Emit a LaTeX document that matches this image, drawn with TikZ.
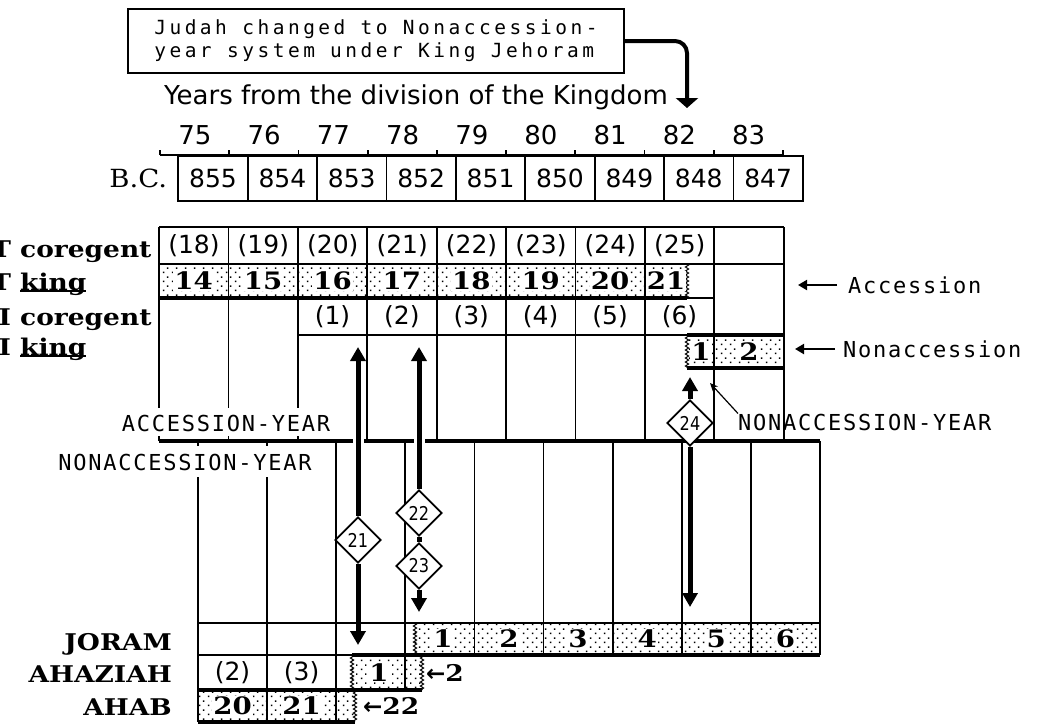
\documentclass[tikz,border=0pt]{standalone}
\usepackage{fontspec}
\newfontfamily\genfont{DejaVu Sans}
\newfontfamily\accfont{DejaVu Sans Mono}[LetterSpace=8]
\newfontfamily\notefont{DejaVu Sans Mono}[LetterSpace=18]
\newfontfamily\slabfont{DejaVu Serif}[FakeStretch=1.15]
\newfontfamily\bcfont{DejaVu Serif}[FakeStretch=1.1]
\newfontfamily\tagfont{DejaVu Sans}[FakeStretch=0.85]
\usetikzlibrary{arrows.meta,positioning,shapes.geometric,decorations.pathmorphing,patterns.meta}

\pgfdeclarepattern{
  name=specks,
  type=uncolored,
  bottom left={\pgfpoint{0pt}{0pt}},
  top right={\pgfpoint{9pt}{9pt}},
  tile size={\pgfpoint{9pt}{9pt}},
  code={
    \pgfpathrectangle{\pgfpoint{1pt}{1pt}}{\pgfpoint{1.6pt}{1.6pt}}
    \pgfpathrectangle{\pgfpoint{5.5pt}{5.5pt}}{\pgfpoint{1.6pt}{1.6pt}}
    \pgfusepath{fill}
  }
}

\newsavebox\kingbox
\newcommand\kingline[1]{\sbox\kingbox{#1}\rlap{\rule[-1.5pt]{\wd\kingbox}{2pt}}\usebox\kingbox}

\tikzset{
  gline/.style={line width=1.8pt},
  hline/.style={line width=4pt},
  band/.style={pattern=specks},
  jag/.style={decorate, decoration={zigzag, segment length=4pt, amplitude=1.6pt}, line width=1pt},
  paren/.style={font=\genfont\fontsize{25}{25}\selectfont, inner sep=0pt},
  yearnum/.style={font=\genfont\fontsize{26}{26}\selectfont, inner sep=0pt},
  bccell/.style={draw, gline, minimum width=69.4pt, minimum height=45pt, inner sep=0pt,
                 font=\genfont\fontsize{25}{25}\selectfont},
  regnal/.style={font=\slabfont\bfseries\fontsize{24}{24}\selectfont, fill=white, inner sep=1pt},
  rowlbl/.style={font=\slabfont\bfseries\fontsize{23}{23}\selectfont, inner sep=0pt},
  caplbl/.style={font=\accfont\fontsize{22}{22}\selectfont, inner sep=0pt},
  marker/.style={diamond, aspect=1, draw, fill=white, line width=1.8pt, minimum size=46pt,
                 inner sep=0pt, font=\tagfont\fontsize{19}{19}\selectfont},
  sync/.style={line width=5pt, -{Triangle[length=14pt,width=15pt]},
               preaction={draw=white, line width=11pt, arrows=-}},
  syncbar/.style={line width=5pt},
  notearrow/.style={line width=4pt, rounded corners=12pt, -{Triangle[length=10pt,width=22pt]}},
  labarrow/.style={line width=2pt, -{Triangle[length=9pt,width=10pt]}},
  pointer/.style={line width=1.2pt, -{Stealth[length=8pt,width=7pt]}},
}

\begin{document}
\begin{tikzpicture}[x=1pt, y=-1pt]
  \useasboundingbox (0,0) rectangle (1037,724);

  % note and years scale
  \node[draw, line width=2pt, minimum width=496pt, minimum height=64pt, align=left, inner sep=0pt,
        font=\notefont\fontsize{19.5}{23}\selectfont] (note) at (376,41)
        {Judah changed to Nonaccession-\\year system under King Jehoram};
  \coordinate (bendtip) at (687,108);
  \draw[notearrow] (note.east) -| (bendtip);
  \node[yearnum] (yrs) at (416,97) {Years from the division of the Kingdom};
  \draw[gline] (160,155) -- (783,155);
  \foreach \i in {0,...,9}
    \draw[gline] ({160+69.2*\i},155) -- ++(0,-5);
  \foreach \n [count=\i from 0] in {75,...,83}
    \node[yearnum] (yr\n) at ({195+69.2*\i},135) {\n};
  \foreach \n [count=\i from 0] in {855,854,853,852,851,850,849,848,847}
    \node[bccell] (bc\n) at ({213+69.4*\i},178.5) {\n};
  \node[left=10pt of bc855, font=\bcfont\fontsize{25}{25}\selectfont, inner sep=0pt] (bclbl) {B.C.};

  % accession-year grid
  \fill[band] (159,264) rectangle (687,298);
  \fill[band] (687,335) rectangle (783.6,368);
  \draw[gline] (159,227) -- (783.6,227);
  \draw[gline] (159,264) -- (783.6,264);
  \draw[gline] (297.8,335) -- (687,335);
  \foreach \i in {0,1,2} {
    \draw[gline] ({159+69.4*\i},227) -- ({159+69.4*\i},408);
    \draw[gline] ({159+69.4*\i},441) -- ({159+69.4*\i},436);
  }
  \foreach \i in {3,...,9}
    \draw[gline] ({159+69.4*\i},227) -- ({159+69.4*\i},441);
  \draw[hline] (159,298) -- (687,298);
  \draw[gline] (687,298) -- (714.2,298);
  \draw[hline] (687,335) -- (783.6,335);
  \draw[hline] (687,368) -- (783.6,368);
  \draw[jag] (687,264) -- (687,298);
  \draw[jag] (687,335) -- (687,368);
  \foreach \n [count=\i from 0] in {18,...,25}
    \node[paren] (tc\n) at ({194+69.4*\i},245.5) {(\n)};
  \foreach \n [count=\i from 0] in {14,...,20}
    \node[regnal] (tk\n) at ({193.7+69.4*\i},281) {\n};
  \node[regnal] (tk21) at (666,281) {21};
  \foreach \n [count=\i from 0] in {1,...,6}
    \node[paren] (ic\n) at ({332.5+69.4*\i},316.5) {(\n)};
  \node[regnal] (ik1) at (701,351.5) {1};
  \node[regnal] (ik2) at (749,351.5) {2};

  \node[rowlbl, anchor=base west] (tcolbl) at (20,257) {\llap{T\ }coregent};
  \node[rowlbl, anchor=base west] (tkilbl) at (20,290) {\llap{T\ }\kingline{king}};
  \node[rowlbl, anchor=base west] (icolbl) at (20,325) {\llap{I\ }coregent};
  \node[rowlbl, anchor=base west] (ikilbl) at (20,355) {\llap{I\ }\kingline{king}};

  \node[caplbl, anchor=base west] (accside) at (848,293) {Accession};
  \node[caplbl, anchor=base west] (nonside) at (843,357) {Nonaccession};
  \coordinate (acctail) at (837,285);
  \coordinate (acchead) at (798,285);
  \coordinate (nontail) at (835,349);
  \coordinate (nonhead) at (795,349);
  \draw[labarrow] (acctail) -- (acchead);
  \draw[labarrow] (nontail) -- (nonhead);

  % change-over line
  \draw[hline] (159,441) -- (819.9,441);
  \node[caplbl] (acclbl) at (226,423) {ACCESSION-YEAR};
  \node[caplbl] (nonlbl) at (185,462) {NONACCESSION-YEAR};
  \node[caplbl, anchor=west] (nonlbl2) at (738,422) {NONACCESSION-YEAR};
  \coordinate (nonstart) at (710,383);
  \draw[pointer] (nonlbl2.north west) -- (nonstart);

  % nonaccession-year grid
  \fill[band] (415,623) rectangle (819.9,655);
  \fill[band] (352,655) rectangle (422,690);
  \fill[band] (198,690) rectangle (355,722);
  \foreach \j in {0,1} {
    \draw[gline] ({198+69.1*\j},441) -- ({198+69.1*\j},446);
    \draw[gline] ({198+69.1*\j},477) -- ({198+69.1*\j},722);
  }
  \draw[gline] (336.2,441) -- (336.2,722);
  \draw[gline] (405.3,441) -- (405.3,690);
  \foreach \j in {4,...,9}
    \draw[gline] ({198+69.1*\j},441) -- ({198+69.1*\j},655);
  \draw[gline] (198,655) -- (352,655);
  \draw[hline] (352,655) -- (819.9,655);
  \draw[hline] (198,690) -- (422,690);
  \draw[hline] (198,722) -- (355,722);
  \draw[jag] (415,623) -- (415,655);
  \draw[jag] (352,655) -- (352,690);
  \draw[jag] (422,655) -- (422,690);
  \draw[jag] (355,690) -- (355,722);

  % synchronism markers
  \node[marker] (m21) at (358,540) {21};
  \node[marker] (m22) at (419,513) {22};
  \node[marker] (m23) at (419,566) {23};
  \node[marker] (m24) at (690,423) {24};
  \coordinate (t21) at (358,347);
  \coordinate (b21) at (358,645);
  \coordinate (t22) at (419,347);
  \coordinate (b23) at (419,612);
  \coordinate (t24) at (690,377);
  \coordinate (b24) at (690,607);
  \draw[sync] (m21.north) -- (t21);
  \draw[sync] (m21.south) -- (b21);
  \draw[sync] (m22.north) -- (t22);
  \draw[syncbar] (m22.south) -- (m23.north);
  \draw[sync] (m23.south) -- (b23);
  \draw[sync] (m24.north) -- (t24);
  \draw[sync] (m24.south) -- (b24);
  \draw[gline] (198,623) -- (819.9,623);

  \node[regnal] (jo1) at (443,639) {1};
  \foreach \n [count=\i from 4] in {2,...,6}
    \node[regnal] (jo\n) at ({198+69.1*(\i+0.5)},639) {\n};
  \node[paren] (az2) at (232.5,672.5) {(2)};
  \node[paren] (az3) at (301.6,672.5) {(3)};
  \node[regnal] (az1) at (379,672.5) {1};
  \node[regnal] (ab20) at (232.5,706) {20};
  \node[regnal] (ab21) at (301.6,706) {21};
  \node[rowlbl, anchor=west] (aznote) at (426,673) {{\genfont\bfseries ←}2};
  \node[rowlbl, anchor=west] (abnote) at (363,706) {{\genfont\bfseries ←}22};

  \node[rowlbl, anchor=base east] (joram) at (172,650) {JORAM};
  \node[rowlbl, anchor=base east] (ahaziah) at (172,682) {AHAZIAH};
  \node[rowlbl, anchor=base east] (ahab) at (172,715) {AHAB};
\end{tikzpicture}
\end{document}
